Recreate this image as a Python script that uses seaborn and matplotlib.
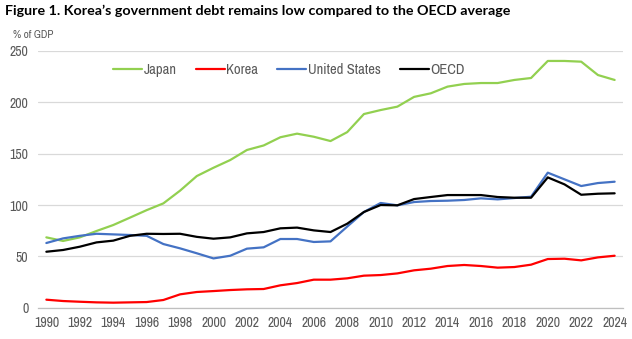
import numpy as np
import pandas as pd
import matplotlib
matplotlib.use("Agg")
import matplotlib.pyplot as plt
from matplotlib import font_manager
import seaborn as sns

years = list(range(1990, 2025))

japan = [68.5, 65.0, 68.5, 74.7, 80.5, 87.7, 95.0, 101.6, 114.0, 128.2, 136.3, 143.8,
         153.6, 158.0, 166.0, 169.5, 166.5, 162.3, 171.0, 188.6, 192.5, 195.8, 205.3,
         208.8, 215.3, 217.9, 218.8, 218.8, 221.8, 223.7, 240.3, 240.3, 239.6, 226.6, 221.8]
korea = [7.8, 6.5, 5.8, 5.2, 4.9, 5.2, 5.5, 7.5, 13.0, 15.3, 16.2, 17.2,
         17.9, 18.2, 21.8, 24.0, 27.3, 27.3, 28.6, 31.2, 31.8, 33.4, 36.4,
         38.0, 40.6, 41.6, 40.6, 39.0, 39.6, 41.9, 47.4, 47.7, 46.1, 49.0, 50.6]
united_states = [63.0, 67.5, 70.0, 72.0, 71.4, 70.8, 70.0, 62.0, 57.8, 53.0, 48.0, 50.6,
                 57.5, 58.8, 66.9, 66.9, 64.0, 64.6, 79.0, 93.2, 102.0, 99.7, 102.9,
                 103.9, 104.2, 104.9, 106.5, 105.5, 106.8, 108.1, 131.5, 125.0, 118.5, 121.4, 122.7]
oecd = [54.5, 56.2, 59.4, 63.6, 65.3, 70.0, 72.0, 71.8, 72.0, 69.0, 67.2, 68.5,
        72.4, 73.7, 77.3, 78.0, 75.3, 73.7, 81.8, 93.2, 100.0, 99.7, 105.8,
        107.8, 109.7, 109.7, 109.7, 107.8, 107.1, 107.1, 126.9, 120.1, 110.0, 111.0, 111.4]

series_names = ["Japan", "Korea", "United States", "OECD"]
series_colors = ["#92D050", "#FF0000", "#4472C4", "#000000"]
y_ticks = [0, 50, 100, 150, 200, 250]
x_tick_years = list(range(1990, 2025, 2))

df = pd.concat([
    pd.DataFrame({"year": years, "value": vals, "country": name})
    for name, vals in zip(series_names, [japan, korea, united_states, oecd])
], ignore_index=True)

sns.set_theme(style="white")

# Prefer a narrow sans for the axis and legend text
installed = font_manager.fontManager.ttflist
narrow_names = sorted({f.name for f in installed if "Narrow" in f.name or "Condensed" in f.name})
if narrow_names:
    plt.rcParams["font.family"] = [narrow_names[0], "DejaVu Sans"]
    plt.rcParams["font.stretch"] = "normal"
else:
    plt.rcParams["font.family"] = ["DejaVu Sans"]
    plt.rcParams["font.stretch"] = "condensed"

fig = plt.figure(figsize=(6.32, 3.39), dpi=100)
ax = fig.add_axes([38 / 632, 31.3 / 339, 585 / 632, 256.7 / 339])

sns.lineplot(data=df, x="year", y="value", hue="country", hue_order=series_names,
             palette=dict(zip(series_names, series_colors)), linewidth=1.6,
             legend=False, ax=ax)

text_grey = "#595959"
ax.set_xlim(1989.5, 2024.5)
ax.set_ylim(0, 250)
ax.set_yticks(y_ticks)
ax.set_xticks(x_tick_years)
ax.set_xticks(np.arange(1989.5, 2025, 1), minor=True)
ax.set_xlabel("")
ax.set_ylabel("")
ax.grid(axis="y", color="#d9d9d9", linewidth=0.9)
ax.set_axisbelow(True)
for side in ["left", "right", "top"]:
    ax.spines[side].set_visible(False)
ax.spines["bottom"].set_color("#bfbfbf")
ax.spines["bottom"].set_linewidth(0.9)
ax.tick_params(axis="y", length=0, pad=7, labelsize=10, labelcolor=text_grey)
ax.tick_params(axis="x", which="major", length=0, pad=6, labelsize=10, labelcolor=text_grey)
ax.tick_params(axis="x", which="minor", length=4, width=0.9, color="#bfbfbf", direction="out")

handles = ax.get_lines()[:4]
leg = ax.legend(handles, series_names, ncol=4, frameon=False, loc="center left",
                bbox_to_anchor=(113 / 632, 1 - 70 / 339), bbox_transform=fig.transFigure,
                borderpad=0, borderaxespad=0, handlelength=2.0, handletextpad=0.1,
                columnspacing=1.3, fontsize=10.5)
for t in leg.get_texts():
    t.set_color(text_grey)

fig.text(5 / 632, 1 - 11 / 339, "Figure 1. Korea\u2019s government debt remains low compared to the OECD average",
         fontsize=10.3, fontweight="bold", family=["Lato", "DejaVu Sans"], stretch="normal",
         va="center", ha="left", color="black")
fig.text(13 / 632, 1 - 35 / 339, "% of GDP", fontsize=8, color=text_grey, va="center", ha="left")

fig.savefig("out.png", dpi=100)
